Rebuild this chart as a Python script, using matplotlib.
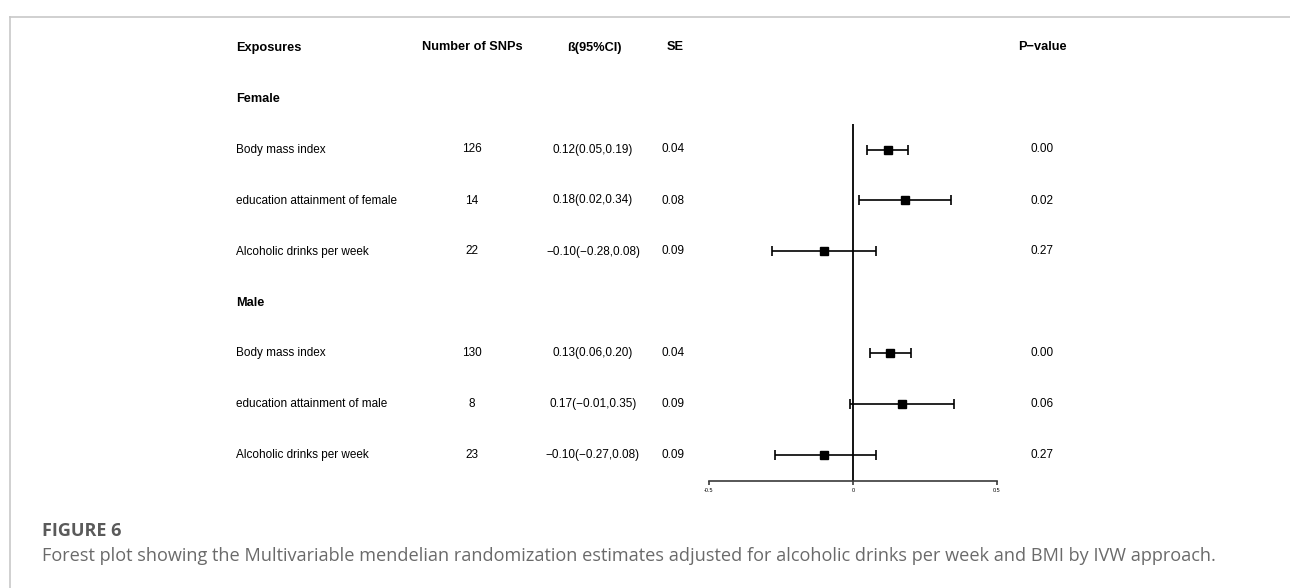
import matplotlib
matplotlib.use("Agg")
import matplotlib.pyplot as plt
from matplotlib.transforms import blended_transform_factory
from matplotlib.lines import Line2D

plt.rcParams['font.family'] = ['Liberation Sans', 'DejaVu Sans']

# data
groups = ["Female", "Male"]
exposures = ["Body mass index", "education attainment of female", "Alcoholic drinks per week",
             "Body mass index", "education attainment of male", "Alcoholic drinks per week"]
n_snps = [126, 14, 22, 130, 8, 23]
beta = [0.12, 0.18, -0.10, 0.13, 0.17, -0.10]
ci_low = [0.05, 0.02, -0.28, 0.06, -0.01, -0.27]
ci_high = [0.19, 0.34, 0.08, 0.20, 0.35, 0.08]
se = [0.04, 0.08, 0.09, 0.04, 0.09, 0.09]
p_values = ["0.00", "0.02", "0.27", "0.00", "0.06", "0.27"]
x_ticks = [-0.5, 0, 0.5]
x_ticklabels = ["-0.5", "0", "0.5"]

W, H = 1290, 588
fig = plt.figure(figsize=(W / 100, H / 100), dpi=100)


def fx(px):
    return px / W


# forest axes (pixel layout)
ax_left, ax_right, ax_bottom, ax_top = 709, 997, 481, 30
ax = fig.add_axes([fx(ax_left), (H - ax_bottom) / H, (ax_right - ax_left) / W, (ax_bottom - ax_top) / H])
row_px = 51
ax.set_xlim(-0.5, 0.5)
ax.set_ylim(8.5, 8.5 - (ax_bottom - ax_top) / row_px)
for s in ["top", "right", "left"]:
    ax.spines[s].set_visible(False)
ax.spines["bottom"].set_color("#3a3a3a")
ax.spines["bottom"].set_linewidth(1.2)
ax.set_yticks([])
ax.set_xticks(x_ticks)
ax.set_xticklabels(x_ticklabels, fontsize=4)
ax.tick_params(axis="x", length=3, width=1.2, color="#3a3a3a", pad=2)
ax.patch.set_alpha(0)

# row positions: header 0, Female 1, rows 2-4, Male 5, rows 6-8
rows = [2, 3, 4, 6, 7, 8]
group_rows = [1, 5]

ax.vlines(0, rows[0] - 0.5, 8.5, color="black", lw=1.3, zorder=2)
ax.errorbar(beta, rows, xerr=[[b - l for b, l in zip(beta, ci_low)], [h - b for b, h in zip(beta, ci_high)]],
            fmt="s", color="black", ms=6.2, elinewidth=1.2, capsize=3.8, capthick=1.2, zorder=3)

tr = blended_transform_factory(fig.transFigure, ax.transData)
fs = 8.5
hfs = 9.2

headers = [("Exposures", 236, "left"), ("Number of SNPs", 472, "center"), ("ß(95%CI)", 594, "center"),
           ("SE", 675, "center"), ("P\u2212value", 1042, "center")]
for txt, px, ha in headers:
    ax.text(fx(px), 0, txt, transform=tr, ha=ha, va="center", fontsize=hfs, fontweight="bold", clip_on=False)

for g, r in zip(groups, group_rows):
    ax.text(fx(236), r, g, transform=tr, ha="left", va="center", fontsize=hfs, fontweight="bold", clip_on=False)


def fmt(v):
    return f"{v:.2f}".replace("-", "\u2212")


for i, r in enumerate(rows):
    ax.text(fx(236), r, exposures[i], transform=tr, ha="left", va="center", fontsize=fs, clip_on=False)
    ax.text(fx(472), r, str(n_snps[i]), transform=tr, ha="center", va="center", fontsize=fs, clip_on=False)
    ax.text(fx(593), r, f"{fmt(beta[i])}({fmt(ci_low[i])},{fmt(ci_high[i])})", transform=tr,
            ha="center", va="center", fontsize=fs, clip_on=False)
    ax.text(fx(673), r, f"{se[i]:.2f}", transform=tr, ha="center", va="center", fontsize=fs, clip_on=False)
    ax.text(fx(1042), r, p_values[i], transform=tr, ha="center", va="center", fontsize=fs, clip_on=False)

# page frame lines
fig.add_artist(Line2D([fx(10), 1], [(H - 17) / H] * 2, color="#c8c8c8", lw=1.2, transform=fig.transFigure))
fig.add_artist(Line2D([fx(10)] * 2, [0, (H - 17) / H], color="#c8c8c8", lw=1.2, transform=fig.transFigure))

# caption
fig.text(fx(42), (H - 531) / H, "FIGURE 6", fontsize=13, fontweight="bold", color="#5a5a5a",
         family=["Open Sans", "DejaVu Sans"], ha="left", va="center")
cap = fig.text(fx(42), (H - 556) / H,
               "Forest plot showing the Multivariable mendelian randomization estimates adjusted for "
               "alcoholic drinks per week and BMI by IVW approach.",
               fontsize=11, color="#6a6a6a", family=["Open Sans", "DejaVu Sans"], ha="left", va="center")
# fit caption width to the reference
r = fig.canvas.get_renderer()
wpx = cap.get_window_extent(r).width
cap.set_fontsize(11 * (1178 / wpx))

fig.savefig("out.png", dpi=100)
